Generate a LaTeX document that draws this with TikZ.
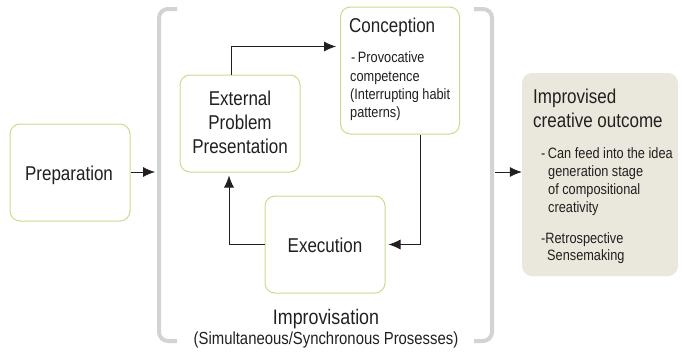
\documentclass[tikz,border=0pt]{standalone}
\usepackage{fontspec}
\setmainfont[FakeStretch=0.85]{Liberation Sans}
\usetikzlibrary{arrows.meta}
\definecolor{boxline}{HTML}{C8DC8C}
\definecolor{txt}{HTML}{231F20}
\definecolor{brk}{HTML}{D2D3D5}
\definecolor{outfill}{HTML}{EAE7DC}
\tikzset{
  stagebox/.style={draw=boxline, line width=1pt, rounded corners=10pt, fill=white},
  conn/.style={draw=txt, line width=0.8pt, -{Latex[length=12pt,width=10pt]}},
  bracket/.style={draw=brk, line width=4pt, rounded corners=9pt},
  big/.style={font=\fontsize{20}{24}\selectfont, text=txt, inner sep=0pt},
  small/.style={font=\fontsize{15}{18}\selectfont, text=txt, inner sep=0pt, anchor=base west},
}
\begin{document}
\begin{tikzpicture}[x=1pt,y=-1pt]
\useasboundingbox (0,0) rectangle (682,351);
% brackets
\draw[bracket] (177,9) -- (159,9) -- (159,341) -- (177,341);
\draw[bracket] (474,9) -- (492,9) -- (492,341) -- (474,341);
% boxes
\node[stagebox, minimum width=120pt, minimum height=97pt] (prep) at (70,172.5) {};
\node[big, anchor=base] (prept) at (69,180) {Preparation};
\node[stagebox, minimum width=120pt, minimum height=97pt] (epp) at (240,123.5) {};
\node[big, anchor=base] (epp1) at (240,105) {External};
\node[big, anchor=base] (epp2) at (240,129) {Problem};
\node[big, anchor=base] (epp3) at (240,153) {Presentation};
\node[stagebox, minimum width=120pt, minimum height=97pt] (exe) at (325,244.5) {};
\node[big, anchor=base] (exet) at (325,252) {Execution};
\node[stagebox, minimum width=119pt, minimum height=127pt] (con) at (400,70.5) {};
\node[big, anchor=base west] (cont) at (349,32) {Conception};
\node[small] (c1) at (351,62) {-\,Provocative};
\node[small] (c2) at (350,81) {competence};
\node[small] (c3) at (350,99) {(Interrupting habit};
\node[small] (c4) at (350,117) {patterns)};
\node[draw=none, fill=outfill, rounded corners=10pt, minimum width=156pt, minimum height=203pt] (out) at (600,174.5) {};
\node[big, anchor=base west] (o1) at (533,103) {Improvised};
\node[big, anchor=base west] (o2) at (533,127) {creative outcome};
\node[small] (o3) at (541,158) {-\,Can feed into the idea};
\node[small] (o4) at (548,176) {generation stage};
\node[small] (o5) at (548,194) {of compositional};
\node[small] (o6) at (548,212) {creativity};
\node[small] (o7) at (541,243) {-Retrospective};
\node[small] (o8) at (547,260) {Sensemaking};
% label
\node[big, anchor=base, font=\fontsize{21}{24}\selectfont] (imp) at (326,324) {Improvisation};
\node[big, anchor=base, font=\fontsize{17.5}{20}\selectfont] (sim) at (326,344) {(Simultaneous/Synchronous Prosesses)};
% connectors
\coordinate (bl) at (155,172);
\coordinate (br) at (520,172);
\coordinate (bo) at (495,172);
\draw[conn] (prep.east |- bl) -- (bl);
\draw[conn] (bo) -- (out.west |- br);
\draw[conn] ([xshift=-9pt]epp.north) |- ([xshift=-4pt,yshift=24pt]con.west);
\draw[conn] ([xshift=20pt]con.south) |- ([xshift=3pt]exe.east);
\draw[conn] (exe.west) -| ([xshift=-11pt,yshift=-3pt]epp.south);
\end{tikzpicture}
\end{document}
